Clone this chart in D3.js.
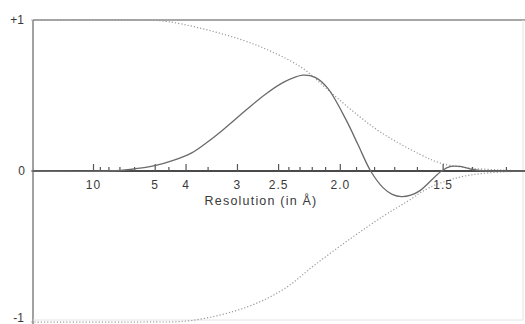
<!DOCTYPE html>
<html>
<head>
<meta charset="utf-8">
<script src="https://cdn.jsdelivr.net/npm/d3@7/dist/d3.min.js"></script>
<style>
  body{margin:0;background:#fff;}
  text{font-family:"Liberation Sans",Arial,sans-serif;fill:#3a3a3a;}
</style>
</head>
<body>
<svg id="chart" width="525" height="324"></svg>
<script>
// spatial frequency (1/A) and transfer value
var ctfFreq  = [0, 0.13, 0.16, 0.20, 0.23, 0.26, 0.285, 0.31, 0.35, 0.38, 0.41, 0.44, 0.46, 0.48, 0.51, 0.53, 0.55, 0.57, 0.585, 0.60, 0.615, 0.63, 0.665, 0.68, 0.695, 0.715, 0.74, 0.8];
var ctfValue = [0, 0, 0.01, 0.035, 0.07, 0.12, 0.19, 0.27, 0.41, 0.51, 0.59, 0.635, 0.62, 0.55, 0.34, 0.17, 0, -0.11, -0.155, -0.17, -0.16, -0.13, 0, 0.03, 0.03, 0.01, 0, 0];

// upper envelope (dotted)
var upFreq  = [0, 0.19, 0.22, 0.27, 0.34, 0.39, 0.44, 0.48, 0.52, 0.565, 0.63, 0.665, 0.71, 0.76, 0.8];
var upValue = [1, 1, 0.99, 0.95, 0.87, 0.79, 0.68, 0.54, 0.40, 0.26, 0.11, 0.05, 0.02, 0.007, 0];

// lower envelope (dotted)
var lowFreq  = [0, 0.18, 0.26, 0.35, 0.41, 0.46, 0.52, 0.57, 0.61, 0.645, 0.695, 0.74, 0.8];
var lowValue = [-1, -1, -0.99, -0.90, -0.78, -0.62, -0.44, -0.30, -0.20, -0.11, -0.04, -0.013, 0];

// resolution ticks (in A)
var majorTicks = [10, 5, 4, 3, 2.5, 2.0, 1.5];
var majorLabels = ['10', '5', '4', '3', '2.5', '2.0', '1.5'];
var minorTicks = [9, 8, 7, 6, 4.5, 3.5, 2.4, 2.3, 2.2, 2.1, 1.9, 1.8, 1.7, 1.6, 1.4, 1.3];

var yLabels = [{v: 1, t: '+1'}, {v: 0, t: '0'}, {v: -1, t: '-1'}];

var svg = d3.select('#chart');
var frameL = 33, frameR = 523, frameT = 20, frameB = 322;

var x = d3.scaleLinear().domain([0, 0.8]).range([31.3, 524.9]);
var y = d3.scaleLinear().domain([-1, 1]).range([frameB, frameT]);

// frame
svg.append('line').attr('x1', frameL).attr('x2', 525).attr('y1', frameT).attr('y2', frameT)
   .style('stroke', '#8a8a8a').style('stroke-width', 1.6);
svg.append('line').attr('x1', frameL).attr('x2', frameL).attr('y1', frameT).attr('y2', 324)
   .style('stroke', '#8a8a8a').style('stroke-width', 1.6);
svg.append('line').attr('x1', frameL).attr('x2', frameR).attr('y1', frameB - 2).attr('y2', frameB - 2)
   .style('stroke', '#e4e4e4').style('stroke-width', 1);
svg.append('line').attr('x1', frameR).attr('x2', frameR).attr('y1', frameT).attr('y2', frameB - 2)
   .style('stroke', '#e4e4e4').style('stroke-width', 1);

// y labels
svg.selectAll('.ylab')
   .data(yLabels)
   .enter()
   .append('text')
   .attr('class', 'ylab')
   .attr('x', (d) => d.v === 0 ? 25 : 24)
   .attr('y', (d) => d.v === -1 ? 322 : y(d.v) + 4)
   .style('text-anchor', 'end')
   .style('font-size', '12px')
   .text((d) => d.t);

// envelopes
var toPts = (fs, vs) => fs.map((f, i) => [f, vs[i]]);
var line = d3.line()
             .x((d) => x(d[0]))
             .y((d) => y(d[1]))
             .curve(d3.curveCatmullRom.alpha(0.5));

svg.append('path')
   .attr('d', line(toPts(upFreq, upValue)))
   .style('fill', 'none')
   .style('stroke', '#9a9a9a')
   .style('stroke-width', 1.2)
   .style('stroke-dasharray', '1.2,2');

svg.append('path')
   .attr('d', line(toPts(lowFreq, lowValue)))
   .style('fill', 'none')
   .style('stroke', '#9a9a9a')
   .style('stroke-width', 1.2)
   .style('stroke-dasharray', '1.2,2');

// zero axis with resolution ticks
var axisG = svg.append('g').attr('transform', 'translate(0,' + y(0) + ')');

axisG.append('line').attr('x1', frameL).attr('x2', 525).attr('y1', 0).attr('y2', 0)
     .style('stroke', '#4a4a4a').style('stroke-width', 1.8);

var minorAxis = d3.axisBottom(x)
                  .tickValues(minorTicks.map((d) => 1 / d))
                  .tickSizeInner(-4)
                  .tickSizeOuter(0)
                  .tickFormat('');
var majorAxis = d3.axisBottom(x)
                  .tickValues(majorTicks.map((d) => 1 / d))
                  .tickSizeInner(-7)
                  .tickSizeOuter(0)
                  .tickPadding(9)
                  .tickFormat((d, i) => majorLabels[i]);

axisG.append('g').call(minorAxis);
axisG.append('g').call(majorAxis);
axisG.selectAll('.domain').remove();
axisG.selectAll('.tick line').style('stroke', '#555').style('stroke-width', 1.2);
axisG.selectAll('.tick text')
     .style('font-size', '12px')
     .style('font-family', '"Liberation Sans",Arial,sans-serif')
     .style('fill', '#3a3a3a')
     .style('letter-spacing', '1px');

// transfer function curve
svg.append('path')
   .attr('d', line(toPts(ctfFreq, ctfValue)))
   .style('fill', 'none')
   .style('stroke', '#6a6a6a')
   .style('stroke-width', 1.3);

// axis title
svg.append('text')
   .attr('x', 261)
   .attr('y', 205)
   .style('text-anchor', 'middle')
   .style('font-size', '12.5px')
   .style('letter-spacing', '1.2px')
   .text('Resolution (in Å)');
</script>
</body>
</html>
